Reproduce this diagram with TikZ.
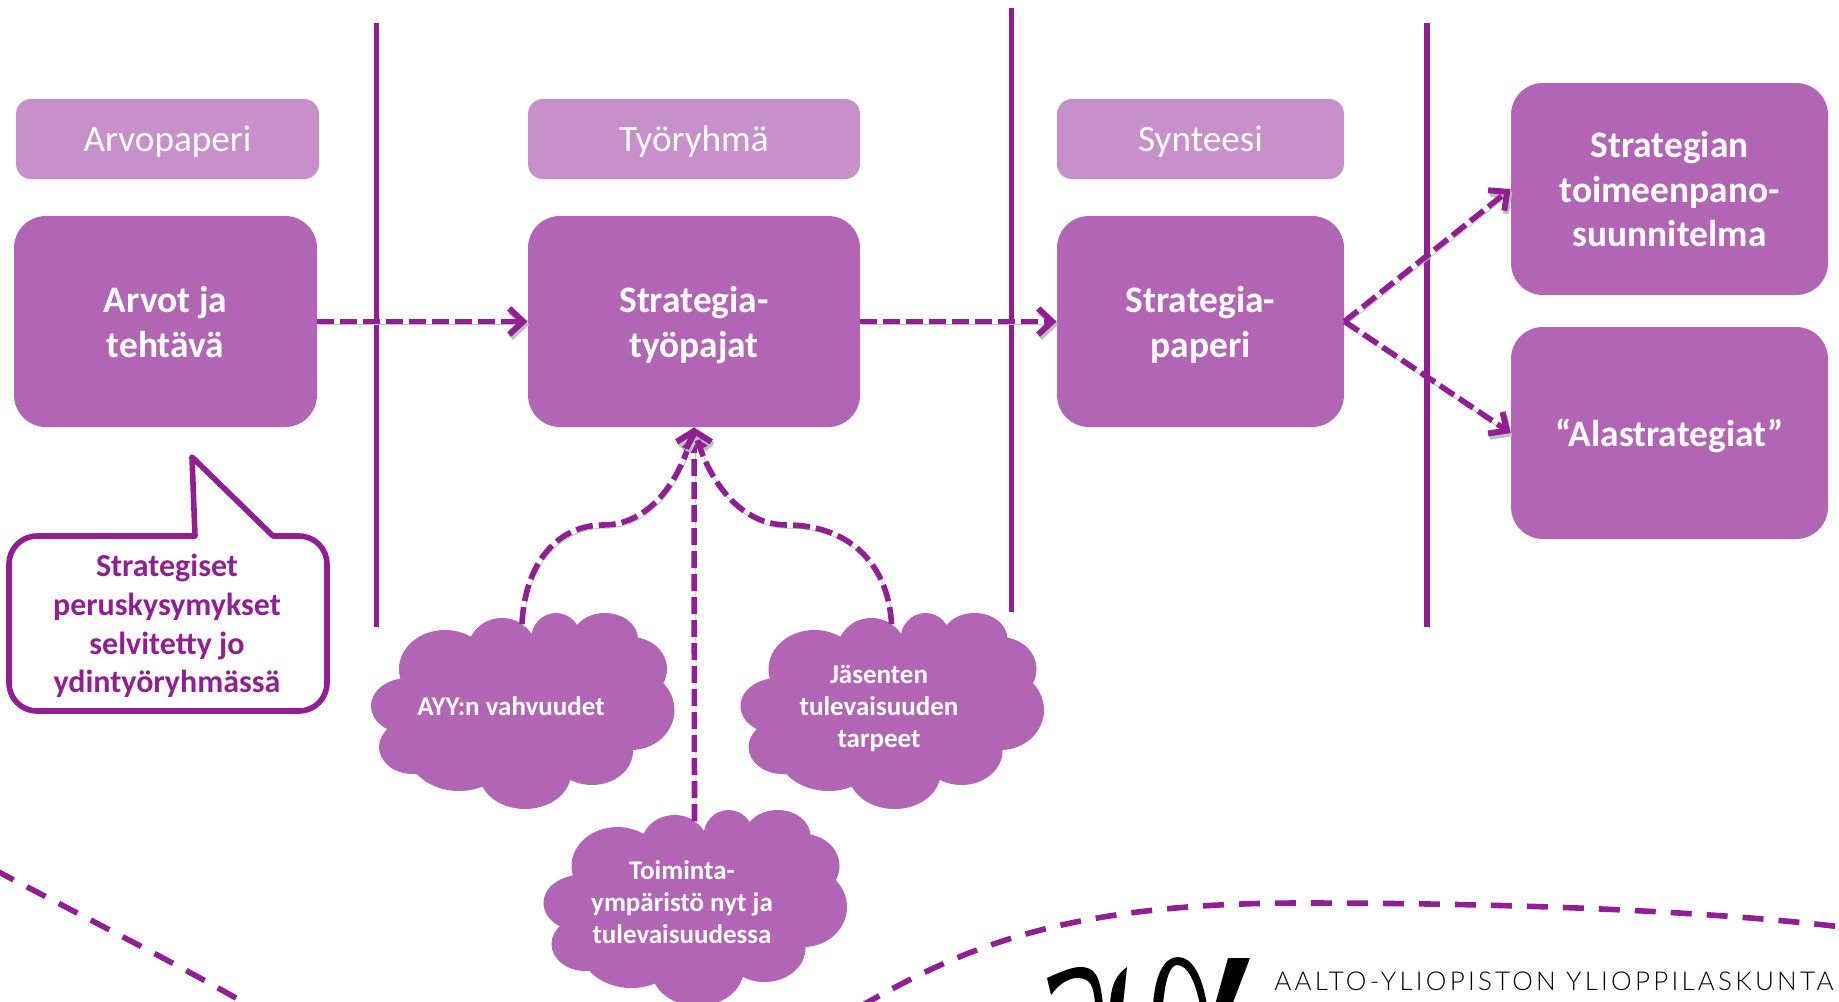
\documentclass[tikz,border=0pt]{standalone}
\usepackage{fontspec}
\setmainfont{Carlito}
\newfontfamily\logofont[LetterSpace=12.4]{Lato Light}
\usetikzlibrary{arrows.meta,positioning}
\definecolor{ayyline}{HTML}{911F93}
\definecolor{ayyfill}{HTML}{B265B4}
\definecolor{ayylight}{HTML}{C790CB}
\newcommand{\rowstrut}{\rule[-.2\baselineskip]{0pt}{\baselineskip}}
\tikzset{
  headbox/.style={fill=ayylight,rounded corners=7.5pt,text=white,font=\fontsize{18.6}{22}\selectfont,inner sep=0pt,text height=12pt,text depth=0pt},
  mainbox/.style={fill=ayyfill,rounded corners=16pt,text=white,align=center,font=\fontsize{18.7}{22.2}\selectfont\bfseries,inner sep=0pt},
  cloudtext/.style={text=white,align=center,font=\fontsize{13.5}{16}\selectfont\bfseries},
  flow/.style={draw=ayyline,line width=2.8pt,dash pattern=on 8.5pt off 3pt,-{Straight Barb[length=7pt,width=13pt,line width=3pt]},
    preaction={draw=black!25,transform canvas={shift={(.8pt,-1.6pt)}}}},
  divider/.style={draw=ayyline,line width=2.8pt,preaction={draw=black!22,transform canvas={shift={(1pt,-1pt)}}}},
  wave/.style={draw=ayyline,line width=2.8pt,dash pattern=on 10.5pt off 7.5pt},
  cloudblob/.pic={
    \fill[ayyfill] foreach \dx/\dy/\rx/\ry in {-77/-42/46/39,-20/-61/34/32,34/-72/25/26,83/-72/33/26,109/-42/36/32,
      109/-1/43.5/40,70/40/41/34,3/62/46/36,-63/37/53/43,-109/36/34/27,-114/-5/37/28,-2/-1/95/62,50/-40/50/36}
      {(\dx,\dy) ellipse [x radius=\rx*.5pt,y radius=\ry*.5pt]};
    \coordinate (-top) at (0,-87);
  }
}
\begin{document}
\begin{tikzpicture}[x=.5pt,y=-.5pt]
  \useasboundingbox (0,0) rectangle (1839,1001);
  % wave lines at the foot
  \draw[wave] (-5,870) .. controls (80,915) and (170,960) .. (250,1006);
  \draw[wave] (861,1006) .. controls (960,950) and (1060,903) .. (1300,903) .. controls (1500,903) and (1700,910) .. (1842,927);
  % dividers
  \draw[divider] (376.5,23) -- (376.5,627);
  \draw[divider] (1011.5,8) -- (1011.5,612);
  \draw[divider] (1427,23) -- (1427,627);
  % top row
  \node[headbox,minimum width=151.5pt,minimum height=40pt] (arvo) at (167.5,139) {Arvopaperi};
  \node[headbox,minimum width=166pt,minimum height=40pt] (tyo) at (694,139) {Työryhmä};
  \node[headbox,minimum width=143.5pt,minimum height=40pt] (syn) at (1200.5,139) {Synteesi};
  % main boxes
  \node[mainbox,minimum width=151.5pt,minimum height=105.5pt] (arvot) at (165.5,321.5) {\rowstrut Arvot ja\\\rowstrut tehtävä};
  \node[mainbox,minimum width=166pt,minimum height=105.5pt] (paja) at (694,321.5) {\rowstrut Strategia-\\\rowstrut työpajat};
  \node[mainbox,minimum width=143.5pt,minimum height=105.5pt] (paperi) at (1200.5,321.5) {\rowstrut Strategia-\\\rowstrut paperi};
  \node[mainbox,minimum width=158.5pt,minimum height=106pt] (toimeen) at (1669.5,189) {\rowstrut Strategian\\\rowstrut toimeenpano-\\\rowstrut suunnitelma};
  \node[mainbox,minimum width=158.5pt,minimum height=106pt] (ala) at (1669.5,433) {\rowstrut “Alastrategiat”};
  % clouds
  \pic (cloudA) at (522,711) {cloudblob};
  \pic (cloudB) at (891.5,711) {cloudblob};
  \pic (cloudC) at (694.5,908) {cloudblob};
  \node[cloudtext] (vahvuus) at (511,706) {AYY:n vahvuudet};
  \node[cloudtext] (jasen) at (879,708) {Jäsenten\\tulevaisuuden\\tarpeet};
  \node[cloudtext] (toimi) at (682,902) {Toiminta-\\ympäristö nyt ja\\tulevaisuudessa};
  % callout
  \coordinate (tip) at (192,457);
  \draw[ayyline,line width=2.8pt,line join=round] (195,536) [rounded corners=14pt] -- (9,536) -- (9,711) -- (327,711) -- (327,536)
    [sharp corners] -- (273,536) -- (tip) -- cycle;
  \node[text=ayyline,align=center,font=\fontsize{16}{19.4}\selectfont\bfseries] (perus) at (167,626) {Strategiset\\peruskysymykset\\selvitetty jo\\ydintyöryhmässä};
  % arrows
  \draw[flow] (arvot.east) -- (paja.west);
  \draw[flow] (paja.east) -- (paperi.west);
  \draw[flow] (paperi.east) -- (toimeen.west);
  \draw[flow] (paperi.east) -- (ala.west);
  \draw[flow] (cloudC-top) -- (paja.south);
  \draw[flow] (cloudA-top) .. controls (525,560) and (560,525) .. (603,525) .. controls (650,525) and (680,480) .. (paja.south);
  \draw[flow] (cloudB-top) .. controls (888,560) and (845,525) .. (787,525) .. controls (740,525) and (708,480) .. (paja.south);
  % logo, cut off by the page edge
  \fill (1047,978) .. controls (1060,972) and (1072,967) .. (1080,967) .. controls (1095,967) and (1100,975) .. (1103,1005)
    -- (1095,1005) .. controls (1094,985) and (1090,978) .. (1077,978) .. controls (1068,978) and (1058,985) .. (1051,995) -- cycle;
  \fill (1110,1005) .. controls (1111,985) and (1116,975) .. (1127,967) -- (1123,1005) -- cycle;
  \fill (1153,1005) .. controls (1155,975) and (1164,957) .. (1178,957) .. controls (1192,957) and (1202,975) .. (1207,1005)
    -- (1200,1005) .. controls (1195,980) and (1187,965) .. (1177,965) .. controls (1170,965) and (1165,980) .. (1163,1005) -- cycle;
  \fill (1228,958) -- (1250,958) -- (1232,1005) -- (1215,1005) -- cycle;
  \node[anchor=west,inner sep=0pt,font=\logofont\fontsize{13}{15}\selectfont] (nimi) at (1274,981) {AALTO-YLIOPISTON YLIOPPILASKUNTA};
\end{tikzpicture}
\end{document}
